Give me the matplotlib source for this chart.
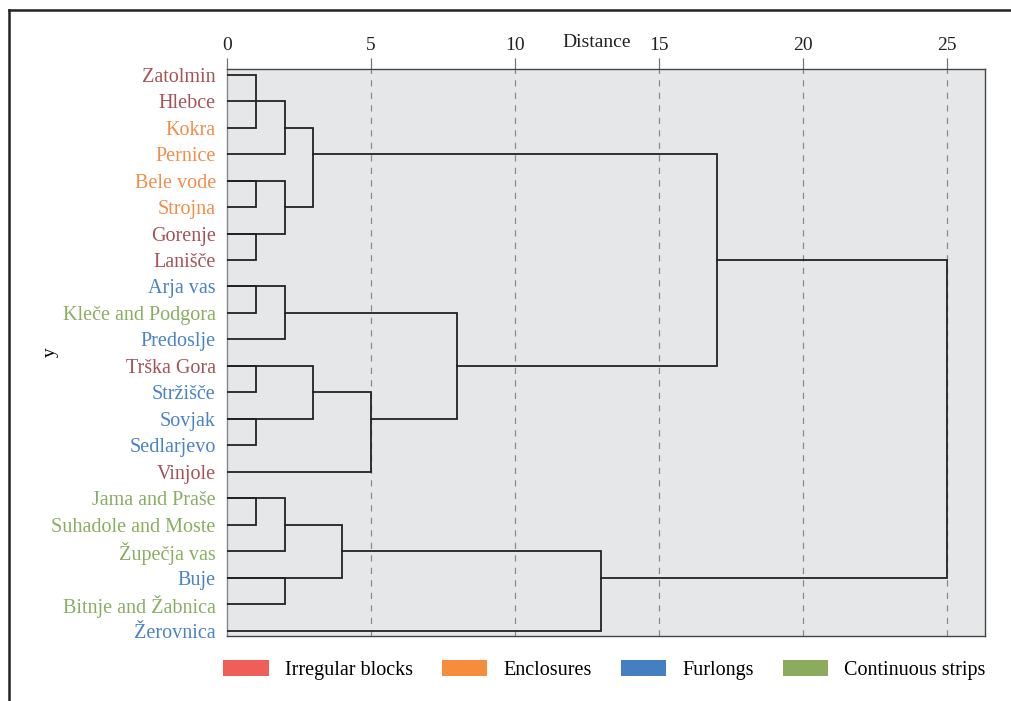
import matplotlib.pyplot as plt
from matplotlib.lines import Line2D
from matplotlib.patches import Patch
from matplotlib.transforms import blended_transform_factory

# leaves, top to bottom, with land-division type
leaves = ['Zatolmin', 'Hlebce', 'Kokra', 'Pernice', 'Bele vode', 'Strojna',
          'Gorenje', 'Lanišče', 'Arja vas', 'Kleče and Podgora', 'Predoslje',
          'Trška Gora', 'Stržišče', 'Sovjak', 'Sedlarjevo', 'Vinjole',
          'Jama and Praše', 'Suhadole and Moste', 'Župečja vas', 'Buje',
          'Bitnje and Žabnica', 'Žerovnica']
types = ['irr', 'irr', 'enc', 'enc', 'enc', 'enc', 'irr', 'irr', 'fur', 'con',
         'fur', 'irr', 'fur', 'fur', 'fur', 'irr', 'con', 'con', 'con', 'fur',
         'con', 'fur']

# links: (top row, top starts at, bottom row, bottom starts at, distance)
links = [
    (0, 0, 2, 0, 1), (1, 0, 3, 0, 2), (2, 2, 5, 2, 3),
    (4, 0, 5, 0, 1), (4, 0, 6, 0, 2), (6, 0, 7, 0, 1),
    (3, 3, 11, 8, 17), (7, 17, 19, 13, 25),
    (8, 0, 9, 0, 1), (8, 0, 10, 0, 2), (9, 2, 13, 5, 8),
    (11, 0, 12, 0, 1), (11, 0, 13, 0, 3), (13, 0, 14, 0, 1), (12, 3, 15, 0, 5),
    (16, 0, 17, 0, 1), (16, 0, 18, 0, 2), (17, 2, 19, 0, 4), (19, 0, 20, 0, 2),
    (18, 4, 21, 0, 13),
]

dist_ticks = [0, 5, 10, 15, 20, 25]
legend_names = ['Irregular blocks', 'Enclosures', 'Furlongs', 'Continuous strips']
legend_keys = ['irr', 'enc', 'fur', 'con']
patch_col = {'irr': '#F05E5A', 'enc': '#F58D3D', 'fur': '#447FC2', 'con': '#8CAB5D'}
label_col = {'irr': '#A65356', 'enc': '#F28D4A', 'fur': '#4A82C8', 'con': '#8BAD62'}

plt.rcParams['font.family'] = ['Liberation Serif', 'DejaVu Serif']

fig = plt.figure(figsize=(10.11, 7.01), dpi=100)
ax = fig.add_axes([0.2245, 0.0927, 0.7498, 0.8089])
ax.set_facecolor('#E6E7E9')

for tr, ts, br, bs, d in links:
    ax.plot([ts, d, d, bs], [tr, tr, br, br], color='#222222', lw=1.3,
            solid_joinstyle='miter', zorder=3)

for t in dist_ticks[1:]:
    ax.axvline(t, color='#8A8A8A', lw=0.9, ls=(0, (5, 5)), zorder=1)

ax.set_xlim(0, 26.32)
ax.set_ylim(21.2, -0.215)
ax.xaxis.tick_top()
ax.set_xticks(dist_ticks)
ax.set_xticklabels([str(t) for t in dist_ticks])
ax.tick_params(axis='x', length=8, width=0.9, color='#777777', pad=3,
               labelsize=14, labelcolor='#222222')
ax.set_yticks(range(len(leaves)))
ax.set_yticklabels(leaves)
ax.tick_params(axis='y', length=0, pad=8, labelsize=14.5)
for lab, ty in zip(ax.get_yticklabels(), types):
    lab.set_color(label_col[ty])

for s in ['top', 'right', 'bottom']:
    ax.spines[s].set_color('#444444')
    ax.spines[s].set_linewidth(1.0)
ax.spines['left'].set_color('#888888')
ax.spines['left'].set_linewidth(1.0)

tr = blended_transform_factory(ax.transData, ax.transAxes)
ax.text(12.85, 1.047, 'Distance', transform=tr, ha='center', va='center',
        fontsize=14, color='#222222')
ax.set_ylabel('y', fontsize=14)
ax.yaxis.set_label_coords(-0.222, 0.5)

handles = [Patch(facecolor=patch_col[k], edgecolor='none') for k in legend_keys]
fig.legend(handles, legend_names, loc='center', bbox_to_anchor=(0.598, 0.044),
           ncol=4, frameon=False, fontsize=14.5, handlelength=2.25,
           handleheight=0.78, handletextpad=0.8, columnspacing=1.45)

# frame lines of the figure panel
fig.add_artist(Line2D([9 / 1011, 9 / 1011], [0, 1 - 10 / 701], color='#222222', lw=1.8))
fig.add_artist(Line2D([9 / 1011, 1], [1 - 10 / 701, 1 - 10 / 701], color='#222222', lw=1.8))

fig.savefig('out.png', dpi=100)
